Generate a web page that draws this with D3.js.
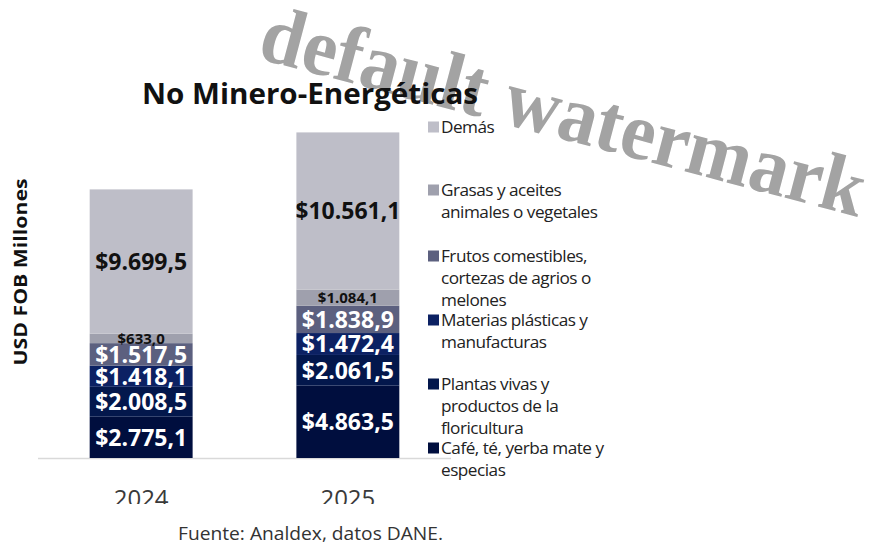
<!DOCTYPE html>
<html><head><meta charset="utf-8">
<script src="https://cdn.jsdelivr.net/npm/d3@7"></script>
<style>body{margin:0;background:#fff}svg{display:block}</style>
</head><body>
<svg id="c" width="874" height="546"></svg>
<script>
const years = ["2024", "2025"];
const seriesNames = ["Café, té, yerba mate y especias", "Plantas vivas y productos de la floricultura", "Materias plásticas y manufacturas", "Frutos comestibles, cortezas de agrios o melones", "Grasas y aceites animales o vegetales", "Demás"];
const cafe = [2775.1, 4863.5];
const plantas = [2008.5, 2061.5];
const materias = [1418.1, 1472.4];
const frutos = [1517.5, 1838.9];
const grasas = [633.0, 1084.1];
const demas = [9699.5, 10561.1];
const legendLines = [["Demás"], ["Grasas y aceites", "animales o vegetales"], ["Frutos comestibles,", "cortezas de agrios o", "melones"], ["Materias plásticas y", "manufacturas"], ["Plantas vivas y", "productos de la", "floricultura"], ["Café, té, yerba mate y", "especias"]];
const colors = ["#000e3e", "#03174c", "#0c2163", "#5c607f", "#9fa0ad", "#bebec8"];
const labelColors = ["#fff", "#fff", "#fff", "#fff", "#111", "#111"];
const labelSizes = [23, 23, 23, 23, 15, 23];

const values = [cafe, plantas, materias, frutos, grasas, demas];
const table = years.map((y, i) => { const o = {year: y}; seriesNames.forEach((s, k) => o[s] = values[k][i]); return o; });
const stacked = d3.stack().keys(seriesNames)(table);

const svg = d3.select("#c");
const xb = d3.scaleBand().domain(years).range([38, 451]).paddingInner(0.502).paddingOuter(0.25);
const y = d3.scaleLinear().domain([0, 25000]).range([458, 86]);

const fmt = v => "$" + d3.format(",.1f")(v).replace(/,/g, "#").replace(/\./g, ",").replace(/#/g, ".");

const defs = svg.append("defs");
years.forEach((yr, i) => {
  defs.append("clipPath").attr("id", "bc" + i).append("rect")
    .attr("x", xb(yr)).attr("y", 0).attr("width", xb.bandwidth()).attr("height", 546);
});

// watermark (underneath)
svg.append("text").attr("transform", "translate(256,58) rotate(14.8)")
  .attr("font-family", "Liberation Serif").attr("font-weight", 700).attr("font-size", 82)
  .attr("fill", "#a3a3a3").attr("textLength", 622).attr("lengthAdjust", "spacingAndGlyphs")
  .text("default watermark");

// title
svg.append("text").attr("x", 142).attr("y", 104).attr("font-family", "Open Sans").attr("font-weight", 700)
  .attr("font-size", 29).attr("fill", "#111").attr("textLength", 336).attr("lengthAdjust", "spacingAndGlyphs")
  .text("No Minero-Energéticas");

// axis line
svg.append("line").attr("x1", 38).attr("x2", 451).attr("y1", 458.5).attr("y2", 458.5)
  .attr("stroke", "#d9d9d9").attr("stroke-width", 1.5);

const g = svg.append("g");
stacked.forEach((layer, k) => {
  g.selectAll(null).data(layer).join("rect")
    .attr("x", d => xb(d.data.year)).attr("width", xb.bandwidth())
    .attr("y", d => y(d[1])).attr("height", d => y(d[0]) - y(d[1]))
    .attr("fill", colors[k]);
});
stacked.forEach((layer, k) => {
  layer.forEach((d, i) => {
    g.append("text").attr("clip-path", `url(#bc${i})`)
      .attr("x", xb(d.data.year) + xb.bandwidth() / 2)
      .attr("y", (y(d[0]) + y(d[1])) / 2)
      .attr("dy", "0.36em").attr("text-anchor", "middle")
      .attr("font-family", "Open Sans").attr("font-weight", 700)
      .attr("font-size", labelSizes[k]).attr("fill", labelColors[k])
      .text(fmt(values[k][i]));
  });
});

// x axis labels, clipped at bottom
defs.append("clipPath").attr("id", "xc").append("rect").attr("x", 0).attr("y", 0).attr("width", 874).attr("height", 504);
svg.append("g").attr("clip-path", "url(#xc)").selectAll("text").data(years).join("text")
  .attr("x", d => xb(d) + xb.bandwidth() / 2).attr("y", 507).attr("text-anchor", "middle")
  .attr("font-family", "Open Sans").attr("font-size", 24).attr("fill", "#3a3a3a").text(d => d);

// y label
svg.append("text").attr("transform", "translate(27,272) rotate(-90)").attr("text-anchor", "middle")
  .attr("font-family", "Open Sans").attr("font-weight", 700).attr("font-size", 18).attr("fill", "#111")
  .attr("textLength", 187).attr("lengthAdjust", "spacingAndGlyphs")
  .text("USD FOB Millones");

// legend
const legendOrder = [5, 4, 3, 2, 1, 0];
const legTop = [127, 190, 256, 320, 384, 448];
legendOrder.forEach((k, j) => {
  const lg = svg.append("g");
  lg.append("rect").attr("x", 428).attr("y", legTop[j] - 5.5).attr("width", 11).attr("height", 11).attr("fill", colors[k]);
  legendLines[j].forEach((ln, m) => {
    lg.append("text").attr("x", 441).attr("y", legTop[j] + m * 22.2).attr("dy", "0.35em")
      .attr("font-family", "Open Sans").attr("font-size", 17.2).attr("letter-spacing", -0.5).attr("fill", "#222").text(ln);
  });
});

// source
svg.append("text").attr("x", 178).attr("y", 540)
  .attr("font-family", "Open Sans").attr("font-size", 18).attr("fill", "#333")
  .attr("textLength", 265).attr("lengthAdjust", "spacingAndGlyphs").text("Fuente: Analdex, datos DANE.");
</script>
</body></html>
